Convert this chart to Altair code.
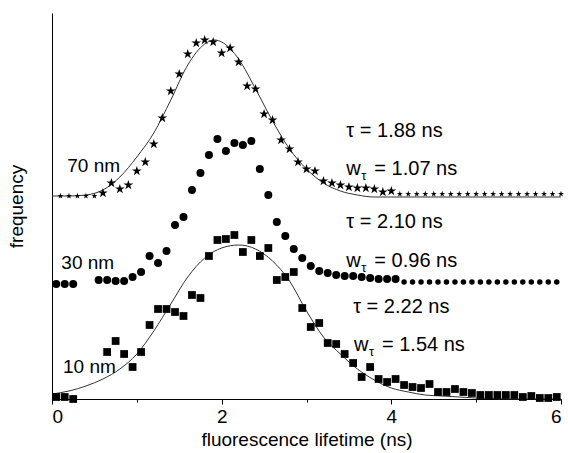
import altair as alt
import pandas as pd

# ---- data (frequency in arbitrary units, stacked offsets) ----
star_t = [0.1, 0.2, 0.3, 0.4, 0.5, 0.6, 0.7, 0.8, 0.9, 1.0, 1.1, 1.2, 1.3, 1.4, 1.5,
          1.6, 1.7, 1.8, 1.9, 2.0, 2.1, 2.2, 2.3, 2.4, 2.5, 2.6, 2.7, 2.8, 2.9, 3.0,
          3.1, 3.2, 3.3, 3.4, 3.5, 3.6, 3.7, 3.8, 3.9, 4.0, 4.1, 4.2, 4.3, 4.4, 4.5,
          4.6, 4.7, 4.8, 4.9, 5.0, 5.1, 5.2, 5.3, 5.4, 5.5, 5.6, 5.7, 5.8, 5.9, 6.0]
star_f = [203, 203, 203, 203, 203, 206, 216, 210, 214, 228, 237, 255, 281, 308, 325,
          345, 356, 359, 357, 346, 351, 337, 313, 310, 285, 279, 259, 250, 237, 230,
          228, 218, 216, 214, 212, 211, 211, 210, 207, 208, 205, 205, 205, 205, 205,
          205, 205, 205, 205, 205, 205, 205, 205, 205, 205, 205, 205, 205, 205, 205]

star_fit_t = [0.0, 0.2, 0.4, 0.6, 0.8, 1.0, 1.2, 1.4, 1.6, 1.8, 1.92, 2.0, 2.2, 2.4,
              2.6, 2.8, 3.0, 3.2, 3.4, 3.6, 3.8, 4.0, 5.0, 6.0]
star_fit_f = [203, 203, 204, 209, 222, 242, 266, 299, 334, 355, 359, 357, 340, 310,
              278, 250, 230, 216, 208, 204, 202, 202, 202, 202]

circ_t = [0.05, 0.15, 0.25, 0.55, 0.65, 0.75, 0.85, 0.95, 1.05, 1.15, 1.25, 1.35,
          1.45, 1.55, 1.65, 1.75, 1.85, 1.95, 2.05, 2.15, 2.25, 2.35, 2.45, 2.55,
          2.65, 2.75, 2.85, 2.95, 3.05, 3.15, 3.25, 3.35, 3.45, 3.55, 3.65, 3.75,
          3.85, 3.95, 4.05, 4.15, 4.25, 4.35, 4.45, 4.55, 4.65, 4.75, 4.85, 4.95,
          5.05, 5.15, 5.25, 5.35, 5.45, 5.55, 5.65, 5.75, 5.85, 5.95]
circ_f = [115, 115, 115, 119, 119, 118, 118, 122, 127, 143, 136, 148,
          174, 182, 209, 226, 244, 260, 248, 256, 254, 258, 230, 204,
          177, 163, 150, 141, 133, 128, 126, 124, 123, 123, 122, 121,
          120, 120, 120, 117, 117, 117, 117, 117, 117, 117, 117, 117,
          117, 117, 117, 117, 117, 117, 117, 117, 117, 117]

sq_t = [0.05, 0.15, 0.25, 0.65, 0.75, 0.85, 0.95, 1.05, 1.15, 1.25, 1.35, 1.45,
        1.55, 1.65, 1.75, 1.85, 1.95, 2.05, 2.15, 2.25, 2.35, 2.45, 2.55, 2.65,
        2.75, 2.85, 2.95, 3.05, 3.15, 3.25, 3.35, 3.45, 3.55, 3.65, 3.75, 3.85,
        3.95, 4.05, 4.15, 4.25, 4.35, 4.45, 4.55, 4.65, 4.75, 4.85, 4.95, 5.05,
        5.15, 5.25, 5.35, 5.45, 5.55, 5.65, 5.75, 5.85, 5.95]
sq_f = [2, 2, 0, 47, 58, 45, 32, 47, 74, 90, 90, 87,
        83, 104, 101, 143, 159, 160, 164, 147, 159, 143, 151, 119,
        122, 127, 91, 72, 76, 56, 55, 45, 36, 22, 32, 20,
        17, 20, 14, 12, 11, 15, 7, 7, 10, 7, 6, 4,
        4, 4, 4, 4, 2, 3, 1, 1, 2]

sq_fit_t = [0.0, 0.2, 0.4, 0.6, 0.8, 1.0, 1.2, 1.4, 1.6, 1.8, 2.0, 2.2, 2.4, 2.6,
            2.8, 3.0, 3.2, 3.4, 3.6, 3.8, 4.0, 4.2, 4.4, 4.6, 4.8, 5.0, 5.5, 6.0]
sq_fit_f = [5, 8, 13, 20, 30, 45, 68, 95, 122, 141, 151, 154, 150, 138,
            118, 88, 62, 45, 30, 19, 11, 7, 4, 3, 2, 1, 0, 0]

size_text = ["70 nm", "30 nm", "10 nm"]
size_t = [0.18, 0.11, 0.13]
size_f = [227, 130, 26]

tau_text = ["τ = 1.88 ns", "τ = 2.10 ns", "τ = 2.22 ns"]
tau_t = [3.47, 3.47, 3.55]
tau_f = [262, 171, 86]

w_text = ["= 1.07 ns", "= 0.96 ns", "= 1.54 ns"]
w_t = [3.47, 3.47, 3.56]
w_f = [224, 132, 48]

x_ticks = [0, 1, 2, 3, 4, 5, 6]

FONT = "Liberation Sans"
STAR = ("M0,-1L0.2245,-0.309L0.951,-0.309L0.363,0.118L0.588,0.809L0,0.382"
        "L-0.588,0.809L-0.363,0.118L-0.951,-0.309L-0.2245,-0.309Z")

x_enc = alt.X("t:Q", scale=alt.Scale(domain=[0, 6], nice=False, zero=False),
              axis=alt.Axis(values=x_ticks, title="fluorescence lifetime (ns)",
                            labelExpr="datum.value % 2 == 0 ? datum.label : ''",
                            tickSize={"condition": {"test": "datum.value % 2 == 0", "value": 5}, "value": 3},
                            labelPadding=3, titlePadding=4, grid=False,
                            domainColor="black", tickColor="black",
                            labelColor="black", titleColor="black",
                            labelFont=FONT, titleFont=FONT,
                            labelFontSize=19, titleFontSize=19, titleFontWeight="normal"))
y_enc = alt.Y("f:Q", scale=alt.Scale(domain=[0, 386], nice=False),
              axis=alt.Axis(title="frequency", ticks=False, labels=False, grid=False,
                            domainColor="black", titleColor="black", titleFont=FONT,
                            titleFontSize=19, titleFontWeight="normal", titlePadding=26))

stars = pd.DataFrame({"t": star_t, "f": star_f})
star_fit = pd.DataFrame({"t": star_fit_t, "f": star_fit_f})
circs = pd.DataFrame({"t": circ_t, "f": circ_f})
sqs = pd.DataFrame({"t": sq_t, "f": sq_f})
sq_fit = pd.DataFrame({"t": sq_fit_t, "f": sq_fit_f})
sizes = pd.DataFrame({"label": size_text, "t": size_t, "f": size_f})
taus = pd.DataFrame({"label": tau_text, "t": tau_t, "f": tau_f})
wlab = pd.DataFrame({"label": w_text, "t": w_t, "f": w_f})

star_layer = alt.Chart(stars).mark_point(shape=STAR, filled=True, color="black", opacity=1).encode(
    x=x_enc, y=y_enc,
    size=alt.condition("datum.t > 4.05 || datum.t < 0.55", alt.value(40), alt.value(105)))
star_line = alt.Chart(star_fit).mark_line(color="#333333", strokeWidth=1, interpolate="monotone").encode(
    x=x_enc, y=y_enc)
circ_layer = alt.Chart(circs).mark_circle(color="black", opacity=1).encode(
    x=x_enc, y=y_enc,
    size=alt.condition("datum.t > 4.1", alt.value(30), alt.value(64)))
sq_layer = alt.Chart(sqs).mark_square(color="black", opacity=1, size=60).encode(x=x_enc, y=y_enc)
sq_line = alt.Chart(sq_fit).mark_line(color="#333333", strokeWidth=1, interpolate="monotone").encode(
    x=x_enc, y=y_enc)

txt = dict(align="left", baseline="alphabetic", font=FONT, color="black")
size_layer = alt.Chart(sizes).mark_text(fontSize=19, **txt).encode(x=x_enc, y=y_enc, text="label:N")
tau_lab_layer = alt.Chart(taus).mark_text(fontSize=20, **txt).encode(x=x_enc, y=y_enc, text="label:N")
w_layer = alt.Chart(wlab).mark_text(fontSize=20, **txt).encode(x=x_enc, y=y_enc, text=alt.value("w"))
tau_sub_layer = alt.Chart(wlab).mark_text(fontSize=13, dx=15, dy=5, **txt).encode(
    x=x_enc, y=y_enc, text=alt.value("τ"))
rest_layer = alt.Chart(wlab).mark_text(fontSize=20, dx=28, **txt).encode(
    x=x_enc, y=y_enc, text="label:N")

chart = alt.layer(star_line, star_layer, circ_layer, sq_line, sq_layer,
                  size_layer, tau_lab_layer, w_layer, tau_sub_layer, rest_layer).properties(
    width=509, height=386,
    autosize=alt.AutoSizeParams(type="none"),
    padding={"left": 52, "top": 13, "right": 7, "bottom": 54},
    background="white",
).configure_view(stroke=None)

chart.save("out.html", embed_options={"renderer": "svg", "actions": False})
